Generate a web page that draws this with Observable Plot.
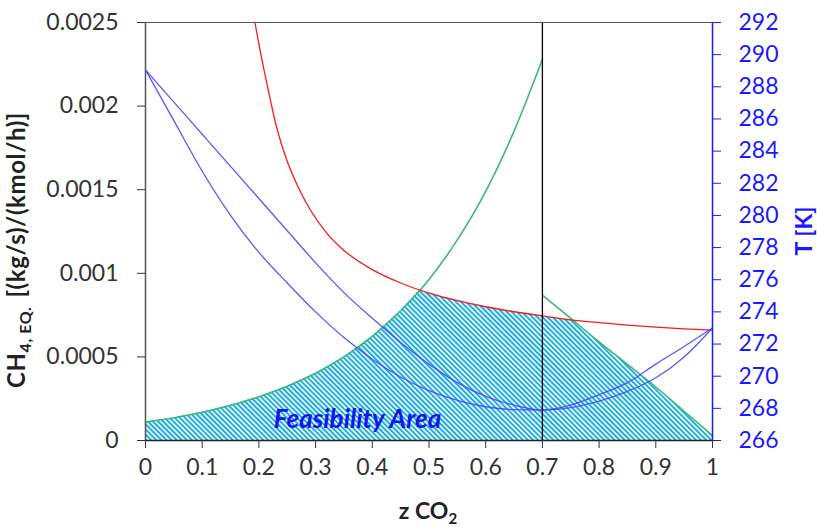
<!DOCTYPE html>
<html>
<head>
<meta charset="utf-8">
<script src="https://cdn.jsdelivr.net/npm/d3@7"></script>
<script src="https://cdn.jsdelivr.net/npm/@observablehq/plot@0.6"></script>
<style>
  html, body { margin: 0; padding: 0; background: #fff; }
</style>
</head>
<body>
<div id="chart"></div>
<script>
// ---------- data ----------
// red curve: CH4 equivalent (left axis)
const zRed   = [0.193, 0.20, 0.21, 0.22, 0.23, 0.24, 0.25, 0.27, 0.29, 0.32, 0.35, 0.40, 0.45, 0.50, 0.55, 0.60, 0.65, 0.70, 0.75, 0.80, 0.85, 0.90, 0.95, 1.00];
const ch4Red = [0.00250, 0.00237, 0.00220, 0.00204, 0.00189, 0.00177, 0.00167, 0.00151, 0.001383, 0.001239, 0.001137, 0.001022, 0.000942, 0.000882, 0.000837, 0.00080, 0.00077, 0.000745, 0.000722, 0.000705, 0.00069, 0.000678, 0.000668, 0.00066];

// green curve, first branch (left axis)
const zGreen1   = [0, 0.05, 0.10, 0.15, 0.20, 0.25, 0.30, 0.35, 0.40, 0.45, 0.50, 0.55, 0.60, 0.65, 0.70];
const ch4Green1 = [0.00011, 0.000136, 0.000169, 0.000211, 0.000261, 0.000325, 0.000402, 0.0005, 0.000623, 0.000776, 0.000963, 0.0012, 0.00149, 0.00185, 0.00228];

// green curve, second branch (left axis)
const zGreen2   = [0.70, 0.75, 0.80, 0.85, 0.90, 0.95, 1.00];
const ch4Green2 = [0.00087, 0.00073, 0.00059, 0.000455, 0.00032, 0.000175, 0.00003];

// blue curves: temperature (right axis)
const zT = [0, 0.05, 0.10, 0.15, 0.20, 0.25, 0.30, 0.35, 0.40, 0.45, 0.50, 0.55, 0.60, 0.65, 0.70, 0.75, 0.80, 0.85, 0.90, 0.95, 1.00];
const T1 = [289.05, 285.9, 282.75, 280.0, 277.7, 275.8, 274.0, 272.4, 271.05, 269.95, 269.1, 268.5, 268.1, 267.92, 267.9, 268.05, 268.45, 269.05, 269.9, 271.2, 273.0];
const T2 = [289.05, 287.05, 285.05, 283.05, 281.05, 279.05, 277.05, 275.2, 273.6, 272.1, 270.75, 269.6, 268.75, 268.2, 267.9, 268.2, 268.85, 269.6, 270.75, 271.85, 273.0];

// vertical limit line
const limitZ = [0.7];

// ticks
const xTicks = [0, 0.1, 0.2, 0.3, 0.4, 0.5, 0.6, 0.7, 0.8, 0.9, 1];
const yTicks = [0, 0.0005, 0.001, 0.0015, 0.002, 0.0025];
const tTicks = [266, 268, 270, 272, 274, 276, 278, 280, 282, 284, 286, 288, 290, 292];

// ---------- derived tables ----------
const yDomain = [0, 0.0025];
const tDomain = [266, 292];
const toY = d3.scaleLinear().domain(tDomain).range(yDomain);

const zip = (xs, ys) => xs.map((z, i) => ({z, v: ys[i]}));
const redData = zip(zRed, ch4Red);
const green1Data = zip(zGreen1, ch4Green1);
const green2Data = zip(zGreen2, ch4Green2);
const t1Data = zT.map((z, i) => ({z, v: toY(T1[i])}));
const t2Data = zT.map((z, i) => ({z, v: toY(T2[i])}));

// linear lookup within a series
function lin(xs, ys, x) {
  if (x < xs[0] - 1e-12 || x > xs[xs.length - 1] + 1e-12) return Infinity;
  let i = d3.bisectRight(xs, x) - 1;
  if (i < 0) i = 0;
  if (i >= xs.length - 1) return ys[xs.length - 1];
  const t = (x - xs[i]) / (xs[i + 1] - xs[i]);
  return ys[i] + t * (ys[i + 1] - ys[i]);
}

// feasibility envelope: below both the green and the red curve
const split = zGreen1[zGreen1.length - 1];
const xsAll = Array.from(new Set([...zGreen1, ...zGreen2, ...zRed])).sort((a, b) => a - b);
const feasible = [];
for (let i = 0; i < xsAll.length - 1; i++) {
  const a = xsAll[i], b = xsAll[i + 1];
  const useFirst = b <= split + 1e-12;
  const gx = useFirst ? zGreen1 : zGreen2, gy = useFirst ? ch4Green1 : ch4Green2;
  const ga = lin(gx, gy, a), gb = lin(gx, gy, b);
  const ra = lin(zRed, ch4Red, a), rb = lin(zRed, ch4Red, b);
  feasible.push({z: a, v: Math.min(ga, ra)});
  if (isFinite(ra) && isFinite(rb) && (ga - ra) * (gb - rb) < 0) {
    const t = (ga - ra) / ((ga - ra) - (gb - rb));
    feasible.push({z: a + t * (b - a), v: ga + t * (gb - ga)});
  }
  if (i === xsAll.length - 2) feasible.push({z: b, v: Math.min(gb, rb)});
}

// ---------- chart ----------
const BLUE = "#1a1aff";
const GREEN = "#3cb878";
const LINE_BLUE = "#4646ff";

const chart = Plot.plot({
  width: 817,
  height: 527,
  marginLeft: 145,
  marginRight: 105,
  marginTop: 22,
  marginBottom: 87,
  x: {domain: [0, 1], label: null},
  y: {domain: yDomain, label: null},
  style: {fontFamily: "Lato, 'Open Sans', sans-serif", fontSize: "23px", background: "#fff", color: "#222"},
  marks: [
    Plot.areaY(feasible, {x: "z", y: "v", fill: "url(#hatch)"}),
    Plot.line(green1Data, {x: "z", y: "v", stroke: GREEN, strokeWidth: 1.6, curve: "monotone-x"}),
    Plot.line(green2Data, {x: "z", y: "v", stroke: GREEN, strokeWidth: 1.6, curve: "monotone-x"}),
    Plot.line(redData, {x: "z", y: "v", stroke: "#ff1a1a", strokeWidth: 1.3, curve: "monotone-x"}),
    Plot.line(t1Data, {x: "z", y: "v", stroke: LINE_BLUE, strokeWidth: 1.3, strokeOpacity: 0.9, curve: "monotone-x"}),
    Plot.line(t2Data, {x: "z", y: "v", stroke: LINE_BLUE, strokeWidth: 1.3, strokeOpacity: 0.9, curve: "monotone-x"}),
    Plot.ruleX(limitZ, {stroke: "#000", strokeWidth: 1.3}),
    Plot.ruleY([yDomain[1]], {stroke: "#555", strokeWidth: 1.2}),
    Plot.ruleX([0], {stroke: "#555", strokeWidth: 1.5}),
    Plot.ruleX([1], {stroke: BLUE, strokeWidth: 1.5}),
    Plot.ruleY([0], {stroke: "#222", strokeWidth: 1.3}),
    Plot.axisX(xTicks, {tickSize: 8, tickPadding: 10, tickFormat: d => String(d), label: null, color: "#333", fontSize: 23}),
    Plot.axisY(yTicks, {tickSize: 8, tickPadding: 19, tickFormat: d => String(d), label: null, color: "#333", fontSize: 23}),
    Plot.axisY(tTicks.map(t => toY(t)), {anchor: "right", tickSize: 8, tickPadding: 18,
      tickFormat: d => String(Math.round(toY.invert(d))), label: null, color: BLUE, fontSize: 23}),
    Plot.text(["Feasibility Area"], {x: 0.374, y: 0.000125, text: d => d, fill: "#1414ee",
      fontSize: 26, fontWeight: "bold", fontStyle: "italic", textAnchor: "middle"})
  ]
});

const svg = d3.select(chart);
svg.insert("defs", ":first-child").html(
  '<pattern id="hatch" patternUnits="userSpaceOnUse" width="3.6" height="3.6" patternTransform="rotate(-45)">' +
  '<rect width="3.6" height="3.6" fill="#ffffff"/>' +
  '<rect width="2" height="3.6" fill="#1aaee0"/>' +
  '</pattern>'
);

// axis titles
const left = svg.append("text")
  .attr("transform", "translate(25,250) rotate(-90)")
  .attr("text-anchor", "middle")
  .attr("font-weight", "bold")
  .attr("font-size", 24)
  .attr("letter-spacing", 0.6)
  .attr("fill", "#222");
left.append("tspan").text("CH");
left.append("tspan").attr("font-size", 16).attr("dy", 6).text("4, EQ.");
left.append("tspan").attr("dy", -6).attr("dx", 9).text("[(kg/s)/(kmol/h)]");

svg.append("text")
  .attr("transform", "translate(812,231) rotate(-90)")
  .attr("text-anchor", "middle")
  .attr("font-weight", "bold")
  .attr("font-size", 23)
  .attr("fill", BLUE)
  .text("T [K]");

const bottom = svg.append("text")
  .attr("x", 428)
  .attr("y", 519)
  .attr("text-anchor", "middle")
  .attr("font-weight", "bold")
  .attr("font-size", 23)
  .attr("fill", "#222");
bottom.append("tspan").text("z CO");
bottom.append("tspan").attr("font-size", 15).attr("dy", 5).text("2");

document.getElementById("chart").appendChild(chart);
</script>
</body>
</html>
